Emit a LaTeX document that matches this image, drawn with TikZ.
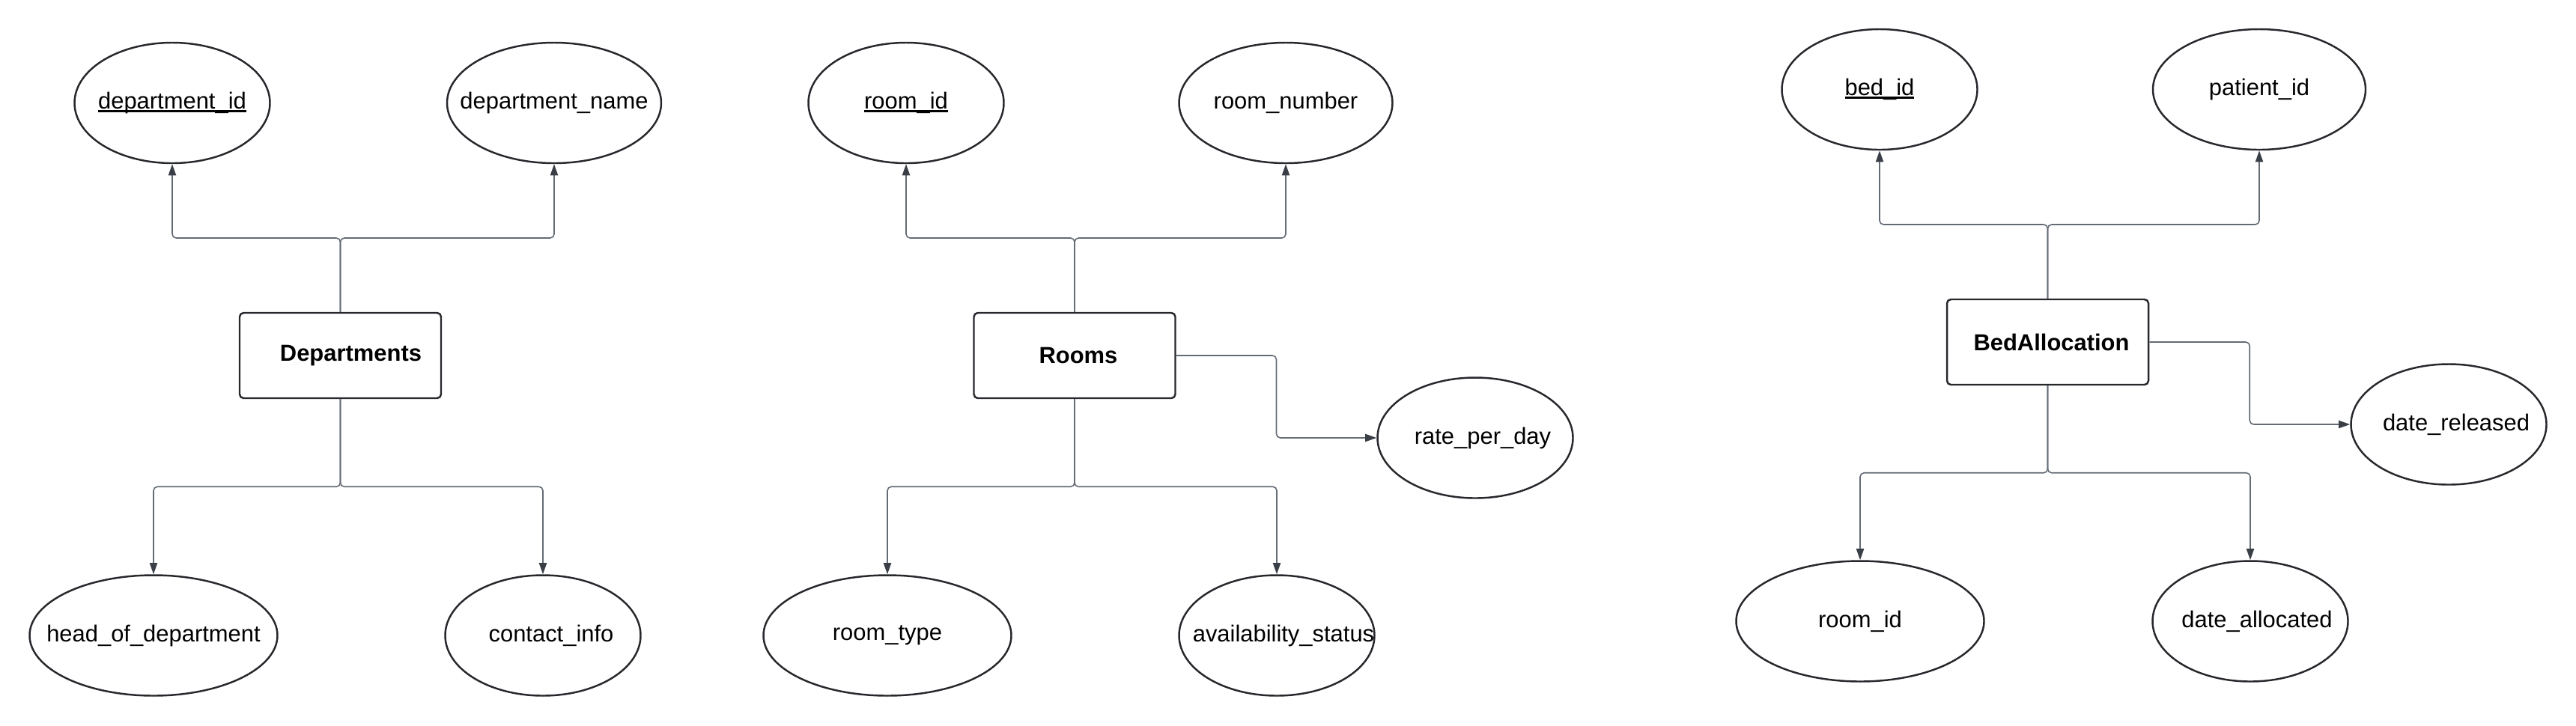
\documentclass[tikz,border=0pt]{standalone}
\usepackage{fontspec}
\setmainfont{Liberation Sans}
\usetikzlibrary{shapes.geometric}
\usetikzlibrary{arrows.meta}
\usetikzlibrary{calc}
\definecolor{linegray}{HTML}{646B75}
\definecolor{tipgray}{HTML}{3A3F47}
\definecolor{edgeblack}{HTML}{26282C}
\newcommand{\keyattr}[1]{\setbox0=\hbox{#1}\rlap{\rule[-0.13em]{\wd0}{0.075em}}\box0}
\tikzset{entity/.style={draw=edgeblack, line width=0.7pt, rounded corners=1.5pt,
                        minimum width=2.69cm, minimum height=1.14cm, font=\bfseries},
         attr/.style={draw=edgeblack, line width=0.7pt, ellipse, inner xsep=-1cm, inner ysep=0pt,
                      minimum width=2.61cm, minimum height=1.61cm},
         wide/.style={minimum width=3.31cm},
         pad/.style={execute at begin node={\hspace*{#1}}},
         link/.style={draw=linegray, line width=0.45pt, rounded corners=1.5pt,
                      -{Triangle[length=4.3pt,width=2.9pt,color=tipgray]}}}

\begin{document}
\fontsize{8.8pt}{10.5pt}\selectfont
\begin{tikzpicture}
\useasboundingbox (0,0) rectangle (34.40,-9.69);
% Departments
\node[entity] (dept) at (4.545,-4.75) {\hspace*{0.28cm}Departments};
\node[attr] (did) at (2.30,-1.375) {\keyattr{department\_id}};
\node[attr, minimum width=2.86cm] (dname) at (7.40,-1.375) {department\_name};
\node[attr, wide] (hod) at (2.05,-8.49) {head\_of\_department};
\node[attr, pad=0.22cm] (cinfo) at (7.25,-8.49) {contact\_info};
% Rooms
\node[entity] (rooms) at (14.35,-4.75) {\hspace*{0.1cm}Rooms};
\node[attr] (rid) at (12.10,-1.375) {\keyattr{room\_id}};
\node[attr, minimum width=2.85cm] (rnum) at (17.17,-1.375) {room\_number};
\node[attr, pad=0.2cm] (rpd) at (19.70,-5.85) {rate\_per\_day};
\node[attr, wide] (rtype) at (11.85,-8.49) {room\_type};
\node[attr, pad=0.18cm] (avail) at (17.05,-8.49) {availability\_status};
% BedAllocation
\node[entity] (bed) at (27.345,-4.57) {\hspace*{0.1cm}BedAllocation};
\node[attr] (bid) at (25.10,-1.195) {\keyattr{bed\_id}};
\node[attr, minimum width=2.84cm] (pid) at (30.17,-1.195) {patient\_id};
\node[attr, pad=0.2cm] (drel) at (32.70,-5.67) {date\_released};
\node[attr, wide] (rid2) at (24.84,-8.30) {room\_id};
\node[attr, pad=0.18cm] (dalloc) at (30.05,-8.30) {date\_allocated};

\foreach \e/\a in {dept/did, dept/dname, rooms/rid, rooms/rnum, bed/bid, bed/pid}
  \draw[link] (\e.north) -- ($(\e.north)!.5!(\e.north |- \a.south)$) -| (\a.south);
\foreach \e/\a in {dept/hod, dept/cinfo, rooms/rtype, rooms/avail, bed/rid2, bed/dalloc}
  \draw[link] (\e.south) -- ($(\e.south)!.5!(\e.south |- \a.north)$) -| (\a.north);
\foreach \e/\a in {rooms/rpd, bed/drel}
  \draw[link] (\e.east) -- ($(\e.east)!.5!(\e.east -| \a.west)$) |- (\a.west);
\end{tikzpicture}
\end{document}
